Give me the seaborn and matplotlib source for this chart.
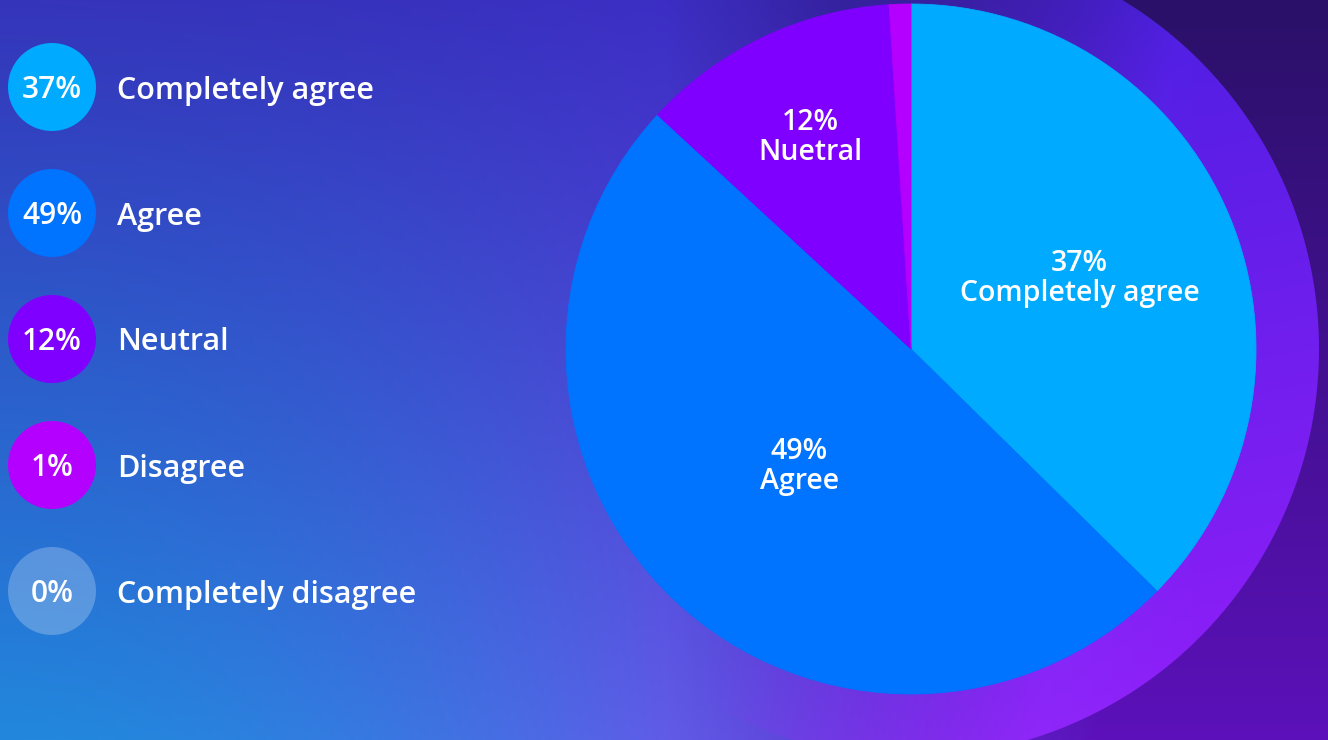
import numpy as np
import pandas as pd
import matplotlib
matplotlib.use("Agg")
import matplotlib.pyplot as plt
from matplotlib import font_manager as fm
import seaborn as sns

# ---- survey results -------------------------------------------------------
categories = ["Completely agree", "Agree", "Neutral", "Disagree", "Completely disagree"]
shares = [37, 49, 12, 1, 0]
# text printed on the wedges (empty for slices too thin to annotate)
wedge_names = ["Completely agree", "Agree", "Nuetral", "", ""]

# ---- styling ---------------------------------------------------------------
slice_colors = ["#00AAFF", "#0073FF", "#8000FF", "#B400FF", "#FFFFFF"]
label_radius = [0.53, 0.47, 0.68, None, None]

W, H = 1328, 740
sns.set_theme(style="white")


def _weight(f):
    return f.weight if isinstance(f.weight, int) else fm.weight_dict.get(f.weight, 400)


def pick_family(candidates, min_weight=600):
    """First family that ships a heavy face, and the lightest such weight."""
    for fam in candidates:
        heavy = sorted(_weight(f) for f in fm.fontManager.ttflist
                       if f.name == fam and _weight(f) >= min_weight)
        if heavy:
            return fam, heavy[0]
    return "DejaVu Sans", "bold"


FAMILY, HEAVY = pick_family(["Open Sans", "Noto Sans", "Lato", "Roboto", "Liberation Sans"])
plt.rcParams["font.family"] = [FAMILY, "DejaVu Sans"]

fig = plt.figure(figsize=(W / 100, H / 100), dpi=100)

# ---- background: soft blue/violet gradient with a large halo disc ----------
yy, xx = np.mgrid[0:H, 0:W] + 0.5
u = xx / W
v = (yy / H)[..., None]


def lerp(a, b, t):
    return np.asarray(a, float) + (np.asarray(b, float) - np.asarray(a, float)) * t


left = lerp((53, 52, 186), (34, 136, 221), v)
mid = lerp((60, 46, 196), (96, 92, 232), v)
right = lerp((42, 16, 104), (92, 16, 186), v)
w1 = (np.clip(u / 0.5, 0, 1) ** 1.8)[..., None]
w2 = np.clip((u - 0.5) / 0.33, 0, 1)[..., None]
bg = np.where((u < 0.5)[..., None], lerp(left, mid, w1), lerp(mid, right, w2))

cx, cy, R_halo, R_pie = 911, 349, 408, 345
dx, dy = xx - cx, yy - cy
halo = np.stack([
    np.clip(105 + 0.09 * dy + 0.02 * dx, 78, 155),
    np.clip(45 - 0.05 * dx, 30, 70),
    np.clip(238 + 0.03 * dy, 225, 248),
], axis=-1)
# the halo fades out towards its upper-left side
fade = np.clip(0.4 + 1.2 * dx / R_halo + 0.25 * dy / R_halo, 0, 1)
inside = (np.clip(R_halo - np.hypot(dx, dy) + 0.5, 0, 1) * fade)[..., None]
img = (bg * (1 - inside) + halo * inside) / 255.0

ax_bg = fig.add_axes([0, 0, 1, 1])
ax_bg.imshow(np.clip(img, 0, 1), extent=(0, W, H, 0), interpolation="bilinear", aspect="auto")
ax_bg.set_xlim(0, W)
ax_bg.set_ylim(H, 0)
ax_bg.axis("off")

# ---- legend column: coloured discs with the share, then the category ------
legend_df = pd.DataFrame({
    "category": categories,
    "share": shares,
    "lx": 52.0,
    "ly": 87.0 + 126.0 * np.arange(len(categories)),
})
palette = dict(zip(categories, slice_colors))
sns.scatterplot(data=legend_df, x="lx", y="ly", hue="category", palette=palette,
                s=4014, linewidth=0, legend=False, ax=ax_bg, zorder=3)
dots = ax_bg.collections[-1]
face = [matplotlib.colors.to_rgba(c) for c in slice_colors]
face[-1] = (1, 1, 1, 0.24)
dots.set_alpha(None)
dots.set_facecolor(face)

for _, row in legend_df.iterrows():
    ax_bg.text(row.lx, row.ly + 10.5, f"{row.share}%", ha="center", va="baseline",
               color="white", fontsize=21.5, fontweight=HEAVY, zorder=4)
    ax_bg.text(117, row.ly + 11.5, row.category, ha="left", va="baseline",
               color="white", fontsize=22, fontweight=HEAVY, zorder=4)
ax_bg.set_xlim(0, W)
ax_bg.set_ylim(H, 0)
ax_bg.axis("off")

# ---- pie ---------------------------------------------------------------------
ax_pie = fig.add_axes([(cx - R_pie) / W, 1 - (cy + R_pie) / H, 2 * R_pie / W, 2 * R_pie / H])
wedges, _ = ax_pie.pie(shares, colors=slice_colors, startangle=90, counterclock=False,
                       radius=1, wedgeprops=dict(linewidth=0))
for wdg, col, share in zip(wedges, slice_colors, shares):
    if share > 0:
        wdg.set_edgecolor(col)
        wdg.set_linewidth(0.6)
for wdg, share, name, rf in zip(wedges, shares, wedge_names, label_radius):
    if rf is None:
        continue
    ang = np.deg2rad((wdg.theta1 + wdg.theta2) / 2)
    ax_pie.text(rf * np.cos(ang), rf * np.sin(ang), f"{share}%\n{name}",
                ha="center", va="center", color="white", fontsize=20.5,
                fontweight=HEAVY, linespacing=1.05)
ax_pie.set_xlim(-1, 1)
ax_pie.set_ylim(-1, 1)
ax_pie.set_aspect("equal")
ax_pie.axis("off")

fig.savefig("out.png", dpi=100)
